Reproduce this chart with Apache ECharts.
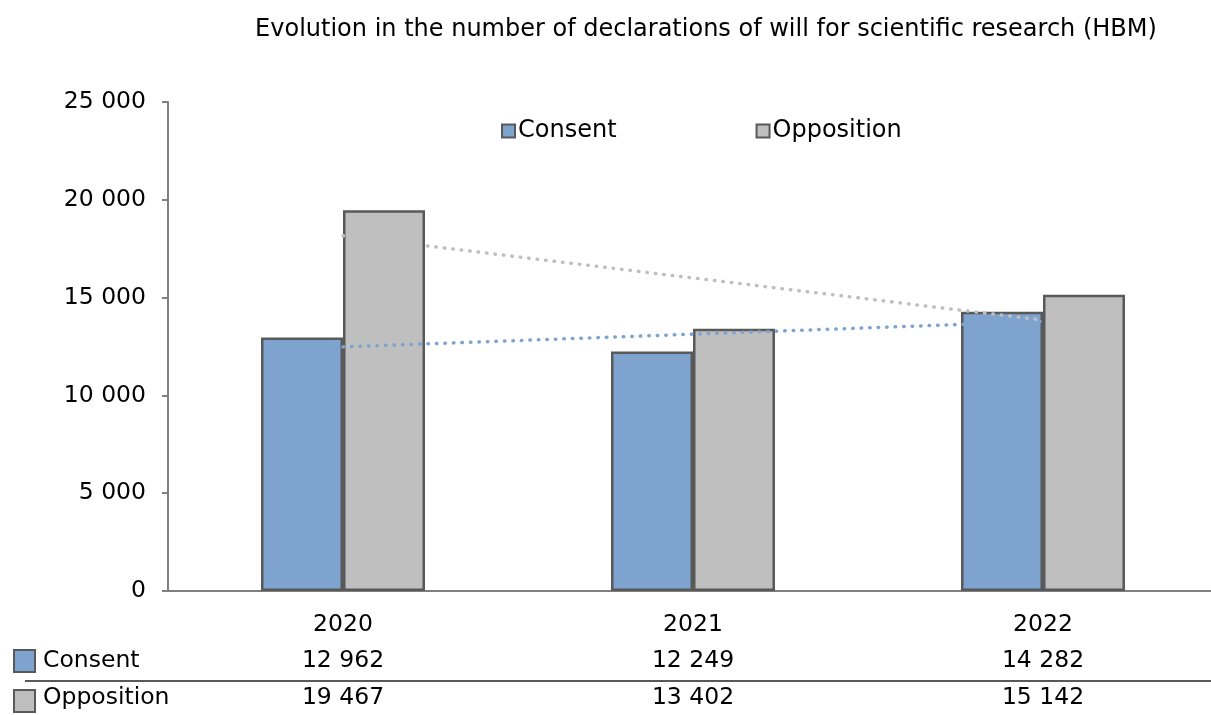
<!DOCTYPE html>
<html>
<head>
<meta charset="utf-8">
<script src="https://cdn.jsdelivr.net/npm/echarts@6/dist/echarts.min.js"></script>
<style>
html,body{margin:0;padding:0;background:#fff;overflow:hidden;}
#chart{width:1220px;height:715px;}
</style>
</head>
<body>
<div id="chart"></div>
<script>
const titleText = 'Evolution in the number of declarations of will for scientific research (HBM)';
const categories = ['2020', '2021', '2022'];
const consent = [12962, 12249, 14282];
const opposition = [19467, 13402, 15142];
// dotted trend lines, endpoints
const consentTrend = [12480, null, 13780];
const oppositionTrend = [18160, null, 13850];
const yTicks = [0, 5000, 10000, 15000, 20000, 25000];

const FONT = 'DejaVu Sans';
const FS = 23.5;
const BLUE = '#7fa3cf';
const GREY = '#bfbfbf';
const EDGE = '#595959';

function fmt(v) { return String(v).replace(/\B(?=(\d{3})+(?!\d))/g, ' '); }

const chart = echarts.init(document.getElementById('chart'), null, {renderer: 'canvas'});

const option = {
  animation: false,
  backgroundColor: '#fff',
  title: {
    text: titleText,
    left: 701, top: 13, textAlign: 'center',
    textStyle: {fontFamily: FONT, fontSize: 24, fontWeight: 'normal', color: '#000'}
  },
  legend: {
    data: ['Consent', 'Opposition'],
    left: 496, top: 114,
    itemWidth: 13, itemHeight: 13, itemGap: 139,
    icon: 'rect',
    textStyle: {fontFamily: FONT, fontSize: 24, color: '#000', padding: [0, 0, 0, -2]}
  },
  grid: {left: 168, right: 2, top: 102, height: 489, containLabel: false},
  xAxis: [
    {
      type: 'category', data: categories, position: 'bottom',
      axisLine: {lineStyle: {color: '#7f7f7f', width: 2}},
      axisTick: {show: false},
      axisLabel: {fontFamily: FONT, fontSize: FS, color: '#000', margin: 22}
    },
    {
      type: 'category', data: categories, position: 'bottom', offset: 36,
      axisLine: {show: false}, axisTick: {show: false},
      axisLabel: {fontFamily: FONT, fontSize: FS, color: '#000', margin: 22,
        formatter: (v, i) => fmt(consent[i])}
    },
    {
      type: 'category', data: categories, position: 'bottom', offset: 73,
      axisLine: {show: false}, axisTick: {show: false},
      axisLabel: {fontFamily: FONT, fontSize: FS, color: '#000', margin: 22,
        formatter: (v, i) => fmt(opposition[i])}
    }
  ],
  yAxis: {
    type: 'value', min: yTicks[0], max: yTicks[yTicks.length - 1], interval: 5000,
    axisLine: {show: true, lineStyle: {color: '#7f7f7f', width: 2}},
    axisTick: {show: true, length: 6, lineStyle: {color: '#7f7f7f', width: 2}},
    splitLine: {show: false},
    axisLabel: {fontFamily: FONT, fontSize: FS, color: '#000', margin: 22, formatter: v => fmt(v)}
  },
  series: [
    {
      name: 'Consent', type: 'bar', data: consent, barWidth: 82, barGap: '0%',
      itemStyle: {color: BLUE, borderColor: EDGE, borderWidth: 2.5}
    },
    {
      name: 'Opposition', type: 'bar', data: opposition, barWidth: 82, barGap: '0%',
      itemStyle: {color: GREY, borderColor: EDGE, borderWidth: 2.5}
    },
    {
      name: 'Consent trend', type: 'line', data: consentTrend, connectNulls: true,
      symbol: 'none', z: 5, silent: true,
      lineStyle: {color: BLUE, width: 3.5, type: [0.5, 8], cap: 'round'}
    },
    {
      name: 'Opposition trend', type: 'line', data: oppositionTrend, connectNulls: true,
      symbol: 'none', z: 5, silent: true,
      lineStyle: {color: GREY, width: 3.5, type: [0.5, 8], cap: 'round'}
    }
  ],
  graphic: [
    {type: 'rect', shape: {x: 14, y: 650, width: 21, height: 22},
      style: {fill: BLUE, stroke: EDGE, lineWidth: 2}},
    {type: 'text', x: 43, y: 661,
      style: {text: 'Consent', font: FS + 'px "DejaVu Sans"', fill: '#000', textVerticalAlign: 'middle'}},
    {type: 'line', shape: {x1: 25, y1: 681, x2: 1220, y2: 681},
      style: {stroke: '#595959', lineWidth: 2}},
    {type: 'rect', shape: {x: 14, y: 690, width: 21, height: 22},
      style: {fill: GREY, stroke: EDGE, lineWidth: 2}},
    {type: 'text', x: 43, y: 698,
      style: {text: 'Opposition', font: FS + 'px "DejaVu Sans"', fill: '#000', textVerticalAlign: 'middle'}}
  ]
};
chart.setOption(option);
</script>
</body>
</html>
